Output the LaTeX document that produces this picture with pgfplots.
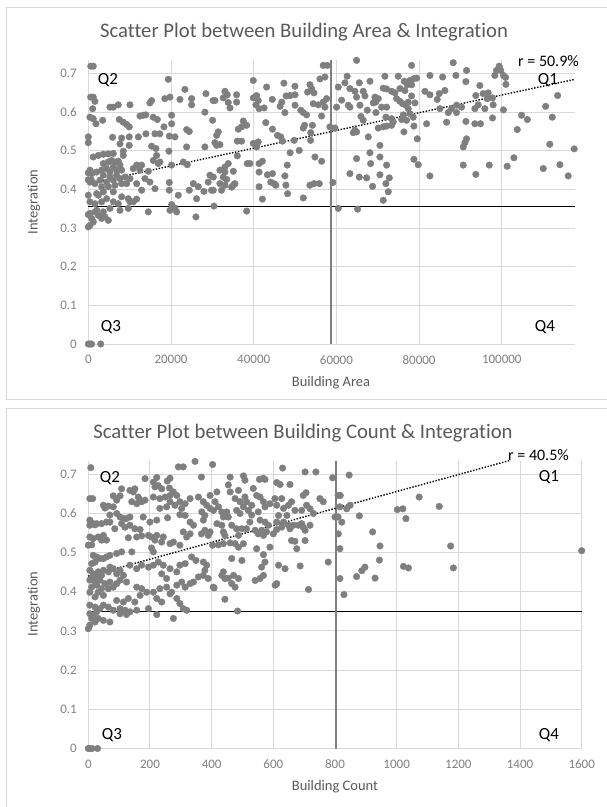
\documentclass[border=0pt]{standalone}
\usepackage{fontspec}
\setmainfont{Carlito}[Ligatures=CommonOff]
\usepackage{pgfplots}
\pgfplotsset{compat=1.18}

\definecolor{ptc}{HTML}{7F7F7F}
\definecolor{gridc}{HTML}{D9D9D9}
\definecolor{labc}{HTML}{595959}
\definecolor{tickc}{HTML}{808080}
\definecolor{framec}{HTML}{D9D9D9}

% building area vs integration
\pgfplotstableread{
x y
600 0.719
1200 0.719
19340 0.685
23370 0.659
28450 0.648
560 0.639
1200 0.639
1600 0.628
30200 0.630
15300 0.630
14900 0.624
18500 0.635
19750 0.639
22170 0.633
24990 0.635
24990 0.619
10080 0.619
5240 0.613
6050 0.613
7250 0.619
1050 0.609
28200 0.600
12500 0.590
13300 0.592
13900 0.593
15700 0.587
16700 0.581
400 0.587
1200 0.583
3470 0.579
1850 0.570
7500 0.581
8460 0.574
9270 0.568
9900 0.562
18300 0.562
20150 0.592
20150 0.570
23780 0.555
24420 0.550
5880 0.535
8060 0.533
9900 0.536
12100 0.536
13940 0.544
16120 0.544
17300 0.544
19600 0.538
20950 0.536
0 0.536
0 0.521
15300 0.512
16360 0.506
16520 0.488
19500 0.499
23780 0.510
28200 0.510
8460 0.499
8460 0.488
1200 0.484
2420 0.488
3630 0.491
4840 0.492
6050 0.493
3630 0.467
4840 0.471
5640 0.475
6450 0.471
7250 0.473
7660 0.463
6050 0.458
4430 0.454
3220 0.450
2020 0.445
800 0.441
400 0.450
5240 0.445
6850 0.450
8060 0.450
3630 0.437
5240 0.432
6850 0.437
2820 0.424
4430 0.419
6050 0.424
7660 0.428
8870 0.432
10080 0.428
1610 0.415
3220 0.407
4840 0.407
6450 0.411
8060 0.415
9270 0.415
3630 0.394
6050 0.394
2420 0.385
11690 0.463
12900 0.463
12490 0.450
10880 0.454
14510 0.447
16930 0.467
20150 0.463
22970 0.471
23940 0.464
13700 0.428
14910 0.419
11690 0.415
12900 0.398
16120 0.402
19590 0.418
19590 0.398
21760 0.385
24420 0.398
25400 0.415
26600 0.407
27970 0.395
29000 0.419
29800 0.398
26190 0.376
26030 0.329
400 0.419
0 0.385
400 0.368
1610 0.363
3220 0.368
2020 0.389
4430 0.376
6050 0.368
7250 0.363
8060 0.381
9670 0.376
10880 0.368
11690 0.375
5240 0.351
7660 0.346
9670 0.351
10080 0.368
14510 0.342
19750 0.346
20150 0.361
20950 0.352
21360 0.342
400 0.338
1610 0.342
800 0.325
2420 0.333
3220 0.325
4030 0.329
4840 0.320
400 0.307
0 0.303
1200 0.316
2020 0.346
3630 0.342
15720 0.475
17330 0.471
7660 0.518
9900 0.514
0 0.443
1000 0.443
0 0.425
700 0.425
0 0.335
0 0
400 0
800 0
3000 0
56820 0.721
57790 0.721
56020 0.686
57230 0.691
62600 0.693
60450 0.665
62060 0.676
39900 0.682
43120 0.665
47310 0.675
49970 0.667
53600 0.671
54000 0.661
54570 0.650
53030 0.652
33050 0.654
33610 0.645
32640 0.637
35870 0.645
30620 0.630
39900 0.637
40700 0.643
41100 0.630
40540 0.619
44500 0.633
47830 0.642
48800 0.643
50000 0.645
46790 0.626
46390 0.615
50000 0.618
42510 0.611
41300 0.609
47550 0.599
51990 0.599
52790 0.593
51380 0.605
54410 0.622
55620 0.619
56820 0.626
57630 0.635
57230 0.613
56420 0.590
60050 0.613
61260 0.631
62870 0.618
33850 0.625
34260 0.611
35870 0.626
30060 0.579
37480 0.577
38290 0.566
37080 0.562
36270 0.556
42920 0.573
44540 0.556
45750 0.540
46550 0.536
46960 0.525
49780 0.527
51990 0.559
52300 0.566
54190 0.566
53790 0.547
58430 0.562
59640 0.559
31030 0.540
31430 0.549
30620 0.521
31830 0.516
31030 0.514
36030 0.525
37080 0.525
39900 0.519
40700 0.510
41100 0.523
48800 0.495
51010 0.501
53750 0.527
36030 0.487
42100 0.473
41300 0.467
38450 0.467
39090 0.467
48110 0.463
54810 0.484
56420 0.473
33850 0.467
33050 0.458
29420 0.437
30220 0.432
31830 0.450
33050 0.445
32640 0.432
33450 0.426
35060 0.447
31830 0.415
33050 0.411
35060 0.411
35470 0.415
32240 0.398
30220 0.398
34660 0.406
41300 0.445
41300 0.407
43320 0.438
44540 0.441
44130 0.419
45350 0.411
44940 0.415
47550 0.435
47790 0.411
48190 0.389
42100 0.375
51990 0.378
53590 0.411
54570 0.415
55860 0.415
59160 0.418
38290 0.344
30380 0.357
60450 0.351
64880 0.734
78180 0.721
88250 0.728
91470 0.708
98720 0.708
98310 0.695
71730 0.693
74960 0.693
82620 0.695
85680 0.691
88900 0.695
77780 0.682
76410 0.680
77130 0.671
78740 0.687
79390 0.688
65530 0.676
68110 0.680
91310 0.679
63270 0.661
64480 0.654
66490 0.654
66900 0.642
71330 0.662
72140 0.660
73350 0.654
74150 0.650
75360 0.661
76570 0.656
78180 0.671
78180 0.642
69320 0.639
70120 0.635
69520 0.626
68920 0.624
70930 0.613
72140 0.613
74560 0.635
75360 0.628
76000 0.622
76810 0.618
77370 0.626
78980 0.624
77370 0.609
81410 0.654
82620 0.645
84390 0.633
84870 0.648
86240 0.656
94690 0.669
93720 0.643
95490 0.648
96700 0.650
97750 0.637
96450 0.635
94290 0.619
95900 0.609
97910 0.619
93480 0.609
63270 0.613
65690 0.618
64880 0.639
67470 0.605
69570 0.599
65930 0.589
66490 0.579
71980 0.587
73350 0.583
75770 0.581
77780 0.596
78580 0.587
76970 0.579
76170 0.593
85030 0.609
87050 0.599
87850 0.609
89060 0.618
90270 0.613
86640 0.574
89060 0.599
81810 0.570
91320 0.576
93480 0.570
94850 0.570
97760 0.585
67710 0.536
64880 0.549
64080 0.547
64480 0.553
70120 0.559
71330 0.562
72140 0.564
73350 0.566
73750 0.575
76330 0.549
78740 0.564
79560 0.531
70530 0.514
90670 0.510
91070 0.521
91470 0.531
68110 0.495
64880 0.480
70530 0.484
72140 0.463
68270 0.467
78740 0.478
79790 0.464
90670 0.463
96960 0.463
63270 0.441
65530 0.432
67300 0.430
70530 0.438
72790 0.430
82620 0.435
93720 0.439
68750 0.408
71980 0.415
72540 0.394
71330 0.372
65120 0.349
99370 0.719
99750 0.708
100400 0.695
100900 0.690
101000 0.672
100400 0.606
104780 0.592
106180 0.581
103730 0.555
110590 0.615
112200 0.587
113500 0.643
111600 0.517
102930 0.482
101300 0.460
110020 0.454
114040 0.464
116060 0.435
117500 0.505
}\areadata

% building count vs integration
\pgfplotstableread{
x y
8 0.717
5 0.638
14 0.638
184 0.689
211 0.680
222 0.692
216 0.668
227 0.671
238 0.663
256 0.683
265 0.690
263 0.665
292 0.719
308 0.719
346 0.733
367 0.693
135 0.659
146 0.655
151 0.663
162 0.642
168 0.634
108 0.663
103 0.645
81 0.645
92 0.634
49 0.621
54 0.614
65 0.619
81 0.617
141 0.630
157 0.625
173 0.630
184 0.634
211 0.642
232 0.638
249 0.642
265 0.646
276 0.655
287 0.646
265 0.630
281 0.621
254 0.617
297 0.630
314 0.625
330 0.638
357 0.642
373 0.630
384 0.621
232 0.613
257 0.589
297 0.597
303 0.613
368 0.604
378 0.595
395 0.613
70 0.596
92 0.600
103 0.591
114 0.587
124 0.587
135 0.591
108 0.574
5 0.583
16 0.574
27 0.574
43 0.574
59 0.578
70 0.578
5 0.570
22 0.571
178 0.591
200 0.578
222 0.583
135 0.570
314 0.595
330 0.578
341 0.570
373 0.583
86 0.561
119 0.565
151 0.561
168 0.559
308 0.553
319 0.540
330 0.548
378 0.557
389 0.544
367 0.548
5 0.540
16 0.536
32 0.540
49 0.544
43 0.532
59 0.532
0 0.519
11 0.520
130 0.538
157 0.540
173 0.543
195 0.544
205 0.540
222 0.544
216 0.532
238 0.527
243 0.540
265 0.523
276 0.527
297 0.519
205 0.512
211 0.502
141 0.502
108 0.502
92 0.498
70 0.493
59 0.489
49 0.485
16 0.493
27 0.489
38 0.485
22 0.476
11 0.472
5 0.455
16 0.446
32 0.451
49 0.455
65 0.451
81 0.459
70 0.463
92 0.446
103 0.455
114 0.442
43 0.442
27 0.438
11 0.434
5 0.430
22 0.425
38 0.430
54 0.421
70 0.425
92 0.421
103 0.430
81 0.412
65 0.408
43 0.408
27 0.417
11 0.412
5 0.399
32 0.399
49 0.391
22 0.387
124 0.425
157 0.412
173 0.408
189 0.399
168 0.391
135 0.468
157 0.459
173 0.468
195 0.463
211 0.468
227 0.476
243 0.468
265 0.459
238 0.446
254 0.434
287 0.451
297 0.468
314 0.472
335 0.489
349 0.480
373 0.476
384 0.468
378 0.455
211 0.399
232 0.408
254 0.412
270 0.399
287 0.417
303 0.425
314 0.412
330 0.421
341 0.425
357 0.438
373 0.442
389 0.434
405 0.412
222 0.383
238 0.374
265 0.395
287 0.383
297 0.370
5 0.366
22 0.361
38 0.357
49 0.366
65 0.361
81 0.353
103 0.357
119 0.353
135 0.349
157 0.353
195 0.357
222 0.342
308 0.357
319 0.353
92 0.378
114 0.374
130 0.383
151 0.374
276 0.332
5 0.344
16 0.340
27 0.349
11 0.332
22 0.323
5 0.315
0 0.306
32 0.332
49 0.327
70 0.323
103 0.344
124 0.342
0 0
5 0
12 0
30 0
403 0.725
630 0.716
703 0.706
738 0.706
792 0.691
846 0.698
460 0.693
508 0.685
503 0.696
555 0.687
573 0.687
567 0.690
611 0.679
622 0.674
654 0.674
395 0.646
417 0.655
411 0.630
422 0.617
433 0.604
406 0.608
454 0.673
460 0.655
487 0.659
476 0.638
492 0.630
508 0.642
513 0.630
503 0.617
530 0.621
535 0.664
546 0.646
557 0.642
568 0.630
573 0.617
589 0.625
605 0.638
611 0.621
627 0.638
633 0.613
649 0.621
659 0.630
670 0.608
644 0.595
617 0.595
449 0.604
438 0.591
454 0.591
481 0.608
492 0.600
519 0.608
530 0.596
551 0.604
697 0.646
708 0.621
692 0.608
719 0.612
730 0.600
706 0.653
751 0.638
762 0.630
810 0.646
817 0.646
816 0.617
810 0.591
838 0.612
849 0.621
417 0.574
433 0.570
465 0.570
498 0.561
524 0.578
557 0.583
573 0.578
584 0.570
611 0.578
649 0.570
681 0.570
697 0.565
719 0.570
395 0.553
438 0.553
443 0.544
481 0.561
487 0.544
513 0.561
541 0.557
551 0.548
562 0.557
568 0.544
578 0.553
600 0.548
611 0.559
627 0.565
633 0.578
654 0.561
665 0.570
692 0.574
703 0.557
403 0.519
422 0.520
438 0.523
460 0.525
476 0.523
487 0.514
503 0.523
546 0.510
589 0.514
659 0.531
670 0.529
676 0.510
703 0.531
800 0.591
822 0.578
811 0.548
816 0.510
465 0.485
498 0.480
568 0.495
573 0.476
562 0.463
568 0.442
541 0.429
617 0.468
638 0.459
687 0.466
778 0.476
438 0.451
433 0.442
443 0.434
454 0.435
471 0.442
487 0.434
465 0.421
476 0.412
557 0.434
408 0.410
443 0.381
484 0.351
606 0.417
611 0.421
714 0.406
816 0.434
829 0.393
879 0.594
1073 0.642
1138 0.618
1002 0.610
1020 0.612
1030 0.587
922 0.553
946 0.517
1175 0.517
944 0.481
870 0.439
887 0.454
897 0.463
930 0.435
1022 0.465
1038 0.461
1184 0.461
1600 0.505
}\countdata

\pgfplotsset{
  panel/.style={
    scale only axis,
    clip=false,
    axis line style={draw=none},
    major tick length=0pt,
    grid=major,
    grid style={draw=gridc, line width=1pt},
    ymin=0, ymax=0.735,
    ytick={0,0.1,0.2,0.3,0.4,0.5,0.6,0.7},
    scaled ticks=false,
    /pgf/number format/fixed,
    /pgf/number format/assume math mode=true,
    /pgf/number format/1000 sep={},
    tick label style={font=\fontsize{13}{15}\selectfont, text=tickc},
    xticklabel style={yshift=-8pt},
    yticklabel style={xshift=-8pt},
  },
  dots/.style={only marks, mark=*, mark size=3.3pt,
    mark options={draw=ptc, fill=ptc}},
}

\begin{document}
\begin{tikzpicture}
\path[use as bounding box] (0,0) rectangle (606pt,-807pt);
\draw[framec, line width=1pt] (6.5pt,-7.5pt) rectangle (612pt,-399pt);
\draw[framec, line width=1pt] (6.5pt,-408pt) rectangle (612pt,-812pt);

% top panel
\begin{axis}[panel,
  at={(88.3pt,-344pt)}, anchor=south west,
  width=486.7pt, height=284pt,
  xmin=0, xmax=117700,
  xtick={0,20000,40000,60000,80000,100000},
]
\addplot[black, line width=0.8pt] coordinates {(0,0.355) (117700,0.355)};
\addplot[ptc, line width=1.4pt] coordinates {(58700,0) (58700,0.735)};
\addplot[dots] table {\areadata};
\addplot[black, line width=1.4pt, dash pattern=on 1.4pt off 1.6pt] coordinates {(0,0.415) (117700,0.685)};
\end{axis}

% bottom panel
\begin{axis}[panel,
  at={(88.3pt,-748.5pt)}, anchor=south west,
  width=493.4pt, height=287.9pt,
  xmin=0, xmax=1600,
  xtick={0,200,400,600,800,1000,1200,1400,1600},
]
\addplot[black, line width=0.8pt] coordinates {(0,0.350) (1600,0.350)};
\addplot[ptc, line width=1.4pt] coordinates {(803,0) (803,0.735)};
\addplot[dots] table {\countdata};
\addplot[black, line width=1.4pt, dash pattern=on 1.4pt off 1.6pt] coordinates {(0,0.440) (1365,0.735)};
\end{axis}

% titles and labels
\node[text=labc, font=\fontsize{20.7}{24}\selectfont] at (304pt,-32pt) {Scatter Plot between Building Area \& Integration};
\node[text=labc, font=\fontsize{20.7}{24}\selectfont] at (303pt,-433pt) {Scatter Plot between Building Count \& Integration};
\node[text=labc, font=\fontsize{14.5}{17}\selectfont] at (331pt,-383pt) {Building Area};
\node[text=labc, font=\fontsize{14.5}{17}\selectfont] at (335pt,-787pt) {Building Count};
\node[text=labc, font=\fontsize{14.5}{17}\selectfont, rotate=90] at (34pt,-202pt) {Integration};
\node[text=labc, font=\fontsize{14.5}{17}\selectfont, rotate=90] at (34pt,-604pt) {Integration};

\begin{scope}[every node/.style={font=\fontsize{17}{20}\selectfont, text=black}]
\node at (108pt,-80pt) {Q2};
\node at (548pt,-80pt) {Q1};
\node at (111pt,-327pt) {Q3};
\node at (545pt,-327pt) {Q4};
\node at (110pt,-478pt) {Q2};
\node at (549pt,-477pt) {Q1};
\node at (112pt,-735pt) {Q3};
\node at (549pt,-735pt) {Q4};
\node[anchor=east, inner sep=0pt, font=\fontsize{16}{19}\selectfont] at (579pt,-61pt) {r = 50.9\%};
\node[anchor=east, inner sep=0pt, font=\fontsize{16}{19}\selectfont] at (569pt,-455pt) {r = 40.5\%};
\end{scope}
\end{tikzpicture}
\end{document}
